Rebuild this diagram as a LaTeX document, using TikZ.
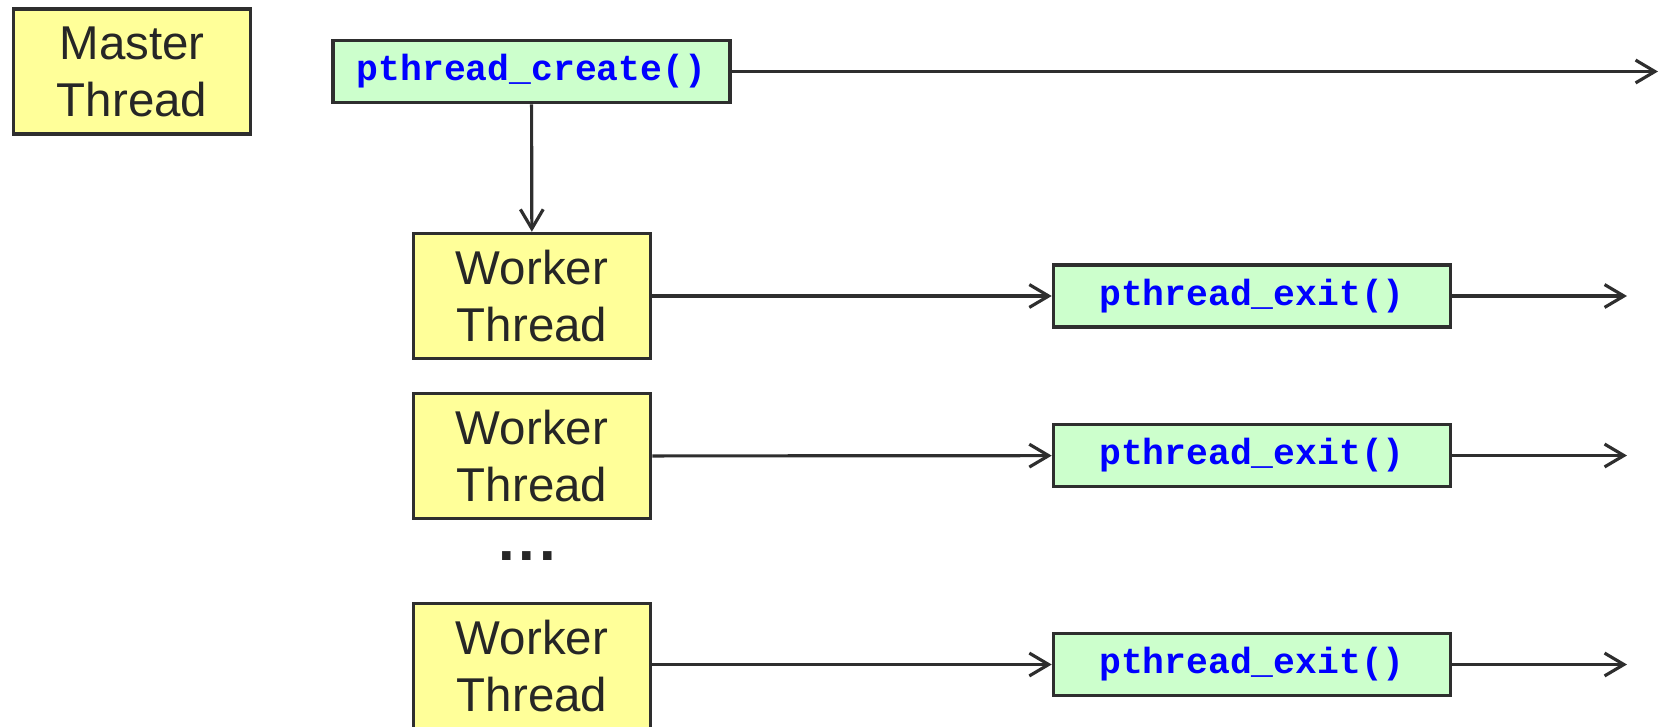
\documentclass[tikz,border=0pt]{standalone}
\usepackage{fontspec}
\setmainfont{Liberation Sans}
\setmonofont{Liberation Mono}
\usetikzlibrary{arrows.meta}
\definecolor{boxline}{HTML}{2E2E2E}
\definecolor{threadfill}{HTML}{FFFF99}
\definecolor{callfill}{HTML}{CCFFCC}
\definecolor{callblue}{HTML}{0000FF}
\definecolor{textgray}{HTML}{262626}
\begin{document}
\begin{tikzpicture}[>={Straight Barb[length=5.5pt,width=6.5pt]},
    thread/.style={draw=boxline, line width=1pt, fill=threadfill, inner sep=0pt,
      minimum width=2.37cm, minimum height=1.25cm, align=center, text=textgray,
      font=\fontsize{13.5}{16.2}\selectfont},
    call/.style={draw=boxline, line width=1pt, fill=callfill, inner sep=0pt,
      minimum width=3.97cm, minimum height=0.62cm, text=callblue,
      font=\fontsize{10.35}{12}\selectfont\ttfamily\bfseries},
    flow/.style={->, draw=boxline, line width=0.9pt}]

  \useasboundingbox (0,0) rectangle (16.67,7.26);

% ---------------- the master thread and its create call
  \node[thread] (master) at (1.32,6.543) {Master\\Thread};
  \node[call] (create) at (5.315,6.545) {pthread\_create()};
  \coordinate (endcreate) at (16.58,6.545);

% ---------------- the worker threads (the last one runs off the bottom edge)
  \node[thread] (worker1) at (5.32,4.30) {Worker\\Thread};
  \node[thread] (worker2) at (5.32,2.70) {Worker\\Thread};
  \node[anchor=base, inner sep=0pt, text=textgray,
    font=\fontsize{17}{18}\bfseries] (dots) at (5.273,1.66)
    {.\kern0.42mm.\kern0.42mm.};
  \node[thread] (worker3) at (5.32,0.60) {Worker\\Thread};

% ---------------- each worker ends in its exit call
  \node[call] (exit1) at (12.52,4.30) {pthread\_exit()};
  \node[call] (exit2) at (12.52,2.705) {pthread\_exit()};
  \node[call] (exit3) at (12.52,0.615) {pthread\_exit()};
  \coordinate (end1) at (16.27,4.30);
  \coordinate (end2) at (16.27,2.705);
  \coordinate (end3) at (16.27,0.615);

% ---------------- connectors
  \draw[flow] (create) -- (endcreate);
  \draw[flow] (create) -- (worker1);
  \draw[flow] (worker1) -- (exit1);
  \draw[flow] (worker2) -- (exit2);
  \draw[flow] (worker3.east |- exit3) -- (exit3);
  \draw[flow] (exit1) -- (end1);
  \draw[flow] (exit2) -- (end2);
  \draw[flow] (exit3) -- (end3);
\end{tikzpicture}
\end{document}
